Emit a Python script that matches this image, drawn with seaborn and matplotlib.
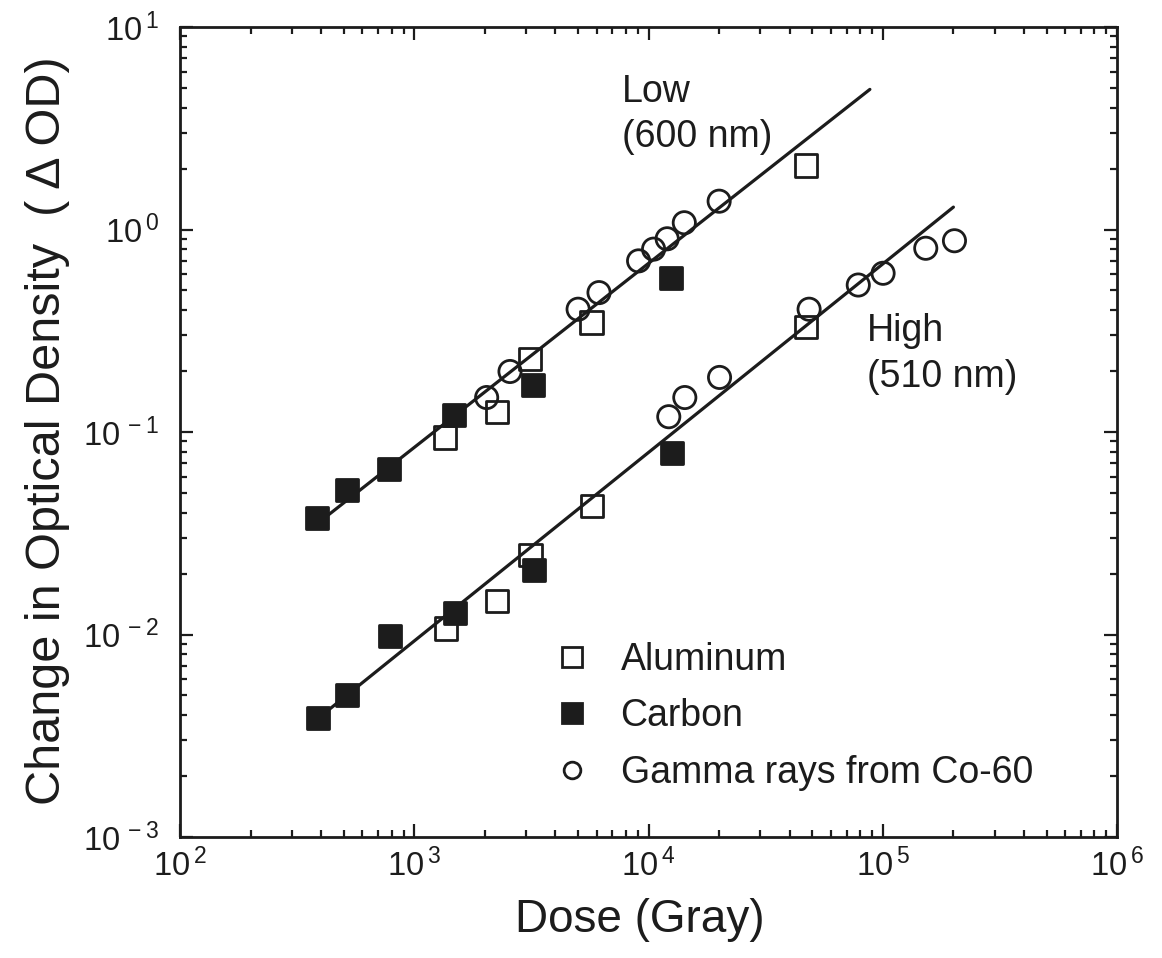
import numpy as np
import pandas as pd
import matplotlib
matplotlib.use("Agg")
import matplotlib.pyplot as plt
from matplotlib.lines import Line2D
from matplotlib.ticker import FixedLocator, FixedFormatter, LogLocator, NullFormatter
import seaborn as sns

# ---------------- data ----------------
# Low (600 nm) band
low_al_dose = [1350, 2260, 3120, 5700, 47000]
low_al_od = [0.094, 0.126, 0.229, 0.347, 2.07]
low_c_dose = [385, 517, 783, 1480, 3210, 12500]
low_c_od = [0.0375, 0.052, 0.0655, 0.122, 0.171, 0.575]
low_g_dose = [2035, 2560, 5000, 6140, 9060, 10500, 12000, 14200, 20000]
low_g_od = [0.148, 0.199, 0.404, 0.488, 0.70, 0.80, 0.90, 1.08, 1.38]

# High (510 nm) band
high_al_dose = [1360, 2260, 3130, 5720, 47000]
high_al_od = [0.0107, 0.0147, 0.0247, 0.0433, 0.331]
high_c_dose = [386, 518, 787, 1486, 3230, 12540]
high_c_od = [0.00386, 0.00502, 0.00983, 0.0127, 0.0208, 0.0785]
high_g_dose = [12190, 14270, 20080, 48420, 78500, 100200, 152400, 202100]
high_g_od = [0.119, 0.148, 0.186, 0.404, 0.532, 0.608, 0.808, 0.88]

# fitted lines (end points)
low_fit_dose = [430, 88000]
low_fit_od = [0.039, 4.92]
high_fit_dose = [430, 200000]
high_fit_od = [0.00424, 1.29]

sources = ["Aluminum", "Carbon", "Gamma rays from Co-60"]
x_exponents = [2, 3, 4, 5, 6]
y_exponents = [-3, -2, -1, 0, 1]
band_labels = [("Low", "(600 nm)"), ("High", "(510 nm)")]

x_label = "Dose (Gray)"
y_label = "Change in Optical Density  ( \u0394 OD)"

# ---------------- build frame ----------------
rows = []
for band, pairs in (("Low", [(low_al_dose, low_al_od, sources[0]),
                             (low_c_dose, low_c_od, sources[1]),
                             (low_g_dose, low_g_od, sources[2])]),
                    ("High", [(high_al_dose, high_al_od, sources[0]),
                              (high_c_dose, high_c_od, sources[1]),
                              (high_g_dose, high_g_od, sources[2])])):
    for xs, ys, src in pairs:
        for xv, yv in zip(xs, ys):
            rows.append({"band": band, "source": src, "dose": xv, "od": yv})
df = pd.DataFrame(rows)

# ---------------- style ----------------
sns.set_theme(style="ticks")
plt.rcParams["font.family"] = ["Liberation Sans", "DejaVu Sans"]
plt.rcParams["mathtext.fontset"] = "custom"
plt.rcParams["mathtext.rm"] = "Liberation Sans"
ink = "#1c1c1c"

fig = plt.figure(figsize=(11.62, 9.58), dpi=100)
ax = fig.add_axes([0.155, 0.1263, 0.8064, 0.8455])
ax.set_xscale("log")
ax.set_yscale("log")

# fit lines
sns.lineplot(x=low_fit_dose, y=low_fit_od, ax=ax, color=ink, lw=2.3, zorder=2)
sns.lineplot(x=high_fit_dose, y=high_fit_od, ax=ax, color=ink, lw=2.3, zorder=2)

marker_size = 16
styles = {
    sources[0]: dict(marker="s", facecolor="none", s=marker_size ** 2),
    sources[1]: dict(marker="s", facecolor=ink, s=marker_size ** 2),
    sources[2]: dict(marker="o", facecolor="none", s=marker_size ** 2),
}
for src in sources:
    sub = df[df["source"] == src]
    sns.scatterplot(data=sub, x="dose", y="od", ax=ax, edgecolor=ink,
                    linewidth=2.0, legend=False, zorder=3, **styles[src])

ax.set_xlim(1e2, 1e6)
ax.set_ylim(1e-3, 1e1)

# ticks
xt = [10.0 ** e for e in x_exponents]
yt = [10.0 ** e for e in y_exponents]
ax.xaxis.set_major_locator(FixedLocator(xt))
ax.yaxis.set_major_locator(FixedLocator(yt))
ax.xaxis.set_major_formatter(FixedFormatter(
    [r"$\mathregular{10^{\,%d}}$" % e for e in x_exponents]))
ax.yaxis.set_major_formatter(FixedFormatter(
    [r"$\mathregular{10^{\,%d}}$" % e for e in y_exponents]))
ax.xaxis.set_minor_locator(LogLocator(base=10, subs=np.arange(2, 10), numticks=20))
ax.yaxis.set_minor_locator(LogLocator(base=10, subs=np.arange(2, 10), numticks=20))
ax.xaxis.set_minor_formatter(NullFormatter())
ax.yaxis.set_minor_formatter(NullFormatter())
ax.tick_params(which="both", direction="in", top=True, right=True,
               color=ink, width=1.6)
ax.tick_params(which="major", length=9.5, labelsize=23.5, labelcolor=ink)
ax.tick_params(which="minor", length=5)
ax.tick_params(axis="x", which="major", pad=8)
ax.tick_params(axis="y", which="major", pad=15)
for sp in ax.spines.values():
    sp.set_linewidth(2.0)
    sp.set_color(ink)

ax.set_xlabel(x_label, fontsize=33, color=ink)
ax.set_ylabel(y_label, fontsize=35, color=ink)
ax.xaxis.set_label_coords(0.491, -0.075)
ax.yaxis.set_label_coords(-0.117, 0.502)

# band annotations
ax.text(0.4717, 0.907, band_labels[0][0], transform=ax.transAxes, fontsize=27,
        color=ink, va="baseline", ha="left")
ax.text(0.4717, 0.852, band_labels[0][1], transform=ax.transAxes, fontsize=27,
        color=ink, va="baseline", ha="left")
ax.text(0.733, 0.612, band_labels[1][0], transform=ax.transAxes, fontsize=27,
        color=ink, va="baseline", ha="left")
ax.text(0.733, 0.5556, band_labels[1][1], transform=ax.transAxes, fontsize=27,
        color=ink, va="baseline", ha="left")

# legend
handles = [
    Line2D([], [], ls="", marker="s", ms=15, mfc="none", mec=ink, mew=2.0),
    Line2D([], [], ls="", marker="s", ms=15, mfc=ink, mec=ink, mew=2.0),
    Line2D([], [], ls="", marker="o", ms=12, mfc="none", mec=ink, mew=2.0),
]
ax.legend(handles, sources, loc="upper left", bbox_to_anchor=(0.398, 0.241),
          frameon=False, fontsize=27, handlelength=1.0, handletextpad=0.8,
          labelspacing=0.55, borderpad=0, borderaxespad=0, labelcolor=ink)

fig.savefig("out.png", dpi=100)
